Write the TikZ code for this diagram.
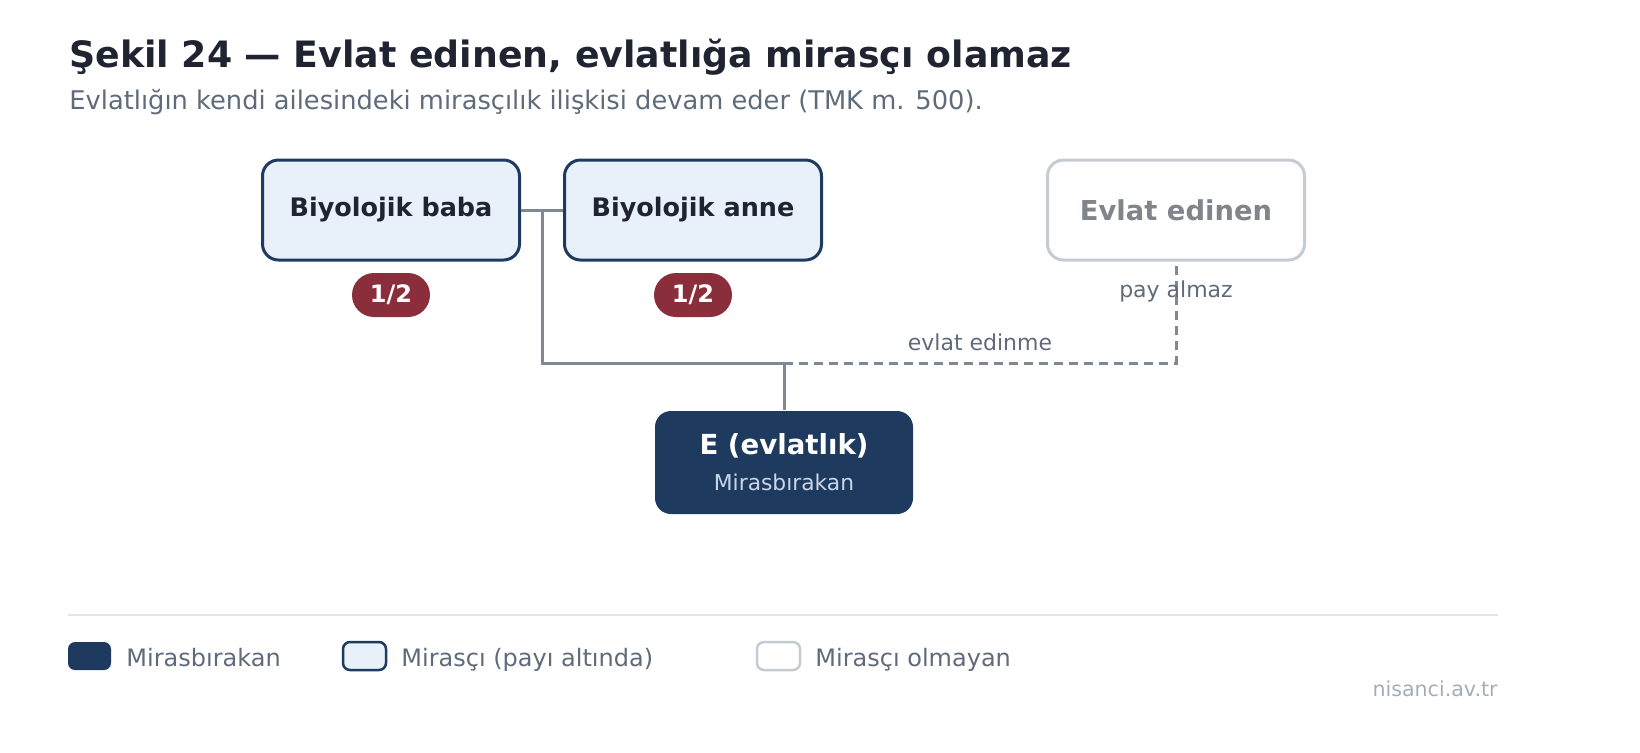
\documentclass[tikz,border=0pt]{standalone}
\usepackage{fontspec}
\setmainfont{DejaVu Sans}
\usetikzlibrary{positioning}

\definecolor{lacivert}{HTML}{1F3A5F}
\definecolor{acikmavi}{HTML}{E8F0F9}
\definecolor{cizgi}{HTML}{7F8893}
\definecolor{bordo}{HTML}{8B2E3C}
\definecolor{silik}{HTML}{C5CBD3}
\definecolor{siliky}{HTML}{80858C}
\definecolor{aciky}{HTML}{5F6B7A}
\definecolor{koyu}{HTML}{1F2430}
\definecolor{ayrac}{HTML}{E1E4E8}
\definecolor{imza}{HTML}{A3ADB8}
\definecolor{eacik}{HTML}{C9D6E8}

\begin{document}
\begin{tikzpicture}[x=0.5pt,y=-0.5pt,
  kisi/.style={draw=lacivert, line width=1.5pt, fill=acikmavi, rounded corners=8pt,
    minimum width=128.5pt, minimum height=50pt, inner sep=0pt, text=koyu,
    font=\bfseries\fontsize{12.75}{15}\selectfont},
  disarda/.style={kisi, draw=silik, fill=white, text=siliky,
    font=\bfseries\fontsize{13.7}{16}\selectfont},
  olen/.style={kisi, draw=none, fill=lacivert, text=white, minimum width=129pt,
    minimum height=51.5pt, align=center, font=\bfseries\fontsize{13.8}{17}\selectfont},
  pay/.style={fill=bordo, text=white, rounded corners=11pt, minimum width=39pt,
    minimum height=22pt, inner sep=0pt, font=\bfseries\fontsize{12}{14}\selectfont},
  bag/.style={draw=cizgi, line width=1.5pt},
  etiket/.style={text=aciky, font=\fontsize{11}{13}\selectfont},
  lejant/.style={rounded corners=3.5pt, line width=1.25pt, minimum width=21.5pt,
    minimum height=14pt, inner sep=0pt},
  lyazi/.style={anchor=base west, text=aciky, inner sep=0pt, font=\fontsize{12}{14}\selectfont}]

%Sayfanin sinirlari
\useasboundingbox (0,0) rectangle (1640,752);

%Baslik ve alt baslik
\node[anchor=base west, inner sep=0pt, text=koyu, font=\bfseries\fontsize{18.15}{21}\selectfont]
  (baslik) at (69,67) {Şekil 24 — Evlat edinen, evlatlığa mirasçı olamaz};
\node[anchor=base west, inner sep=0pt, text=aciky, font=\fontsize{12.86}{15}\selectfont]
  (altbaslik) at (69,109) {Evlatlığın kendi ailesindeki mirasçılık ilişkisi devam eder (TMK m. 500).};

%Kisiler
\node[kisi] (baba) at (391,210) {Biyolojik baba};
\node[kisi] (anne) at (693,210) {Biyolojik anne};
\node[disarda] (edinen) at (1176,210) {Evlat edinen};
\node[olen] (evlatlik) at (784,462.5) {E (evlatlık)\\[1pt]{\mdseries\fontsize{10.9}{13}\selectfont\color{eacik}Mirasbırakan}};

%Paylar
\node[pay] (babapay) at (391,295) {1/2};
\node[pay] (annepay) at (693,295) {1/2};

%Baglar
\coordinate (evlilik) at (542,210);
\coordinate (kol) at (542,363);
\coordinate (catal) at (784,363);
\draw[bag] (baba.east) -- (anne.west);
\draw[bag] (evlilik) -- (kol) -- (catal) -- (evlatlik.north);
\draw[bag, dash pattern=on 4.5pt off 3pt] (catal) -- (catal -| edinen) -- (edinen.south);
\node[etiket] (edinme) at (980,342) {evlat edinme};
\node[etiket] (almaz) at (1176,291) {pay almaz};

%Ayrac ve lejant
\coordinate (ayracsol) at (68,615);
\coordinate (ayracsag) at (1498,615);
\draw[ayrac, line width=1pt] (ayracsol) -- (ayracsag);
\node[lejant, fill=lacivert] (lj1) at (89.5,656) {};
\node[lyazi] (ly1) at (126,666) {Mirasbırakan};
\node[lejant, draw=lacivert, fill=acikmavi] (lj2) at (364.5,656) {};
\node[lyazi] (ly2) at (401,666) {Mirasçı (payı altında)};
\node[lejant, draw=silik, fill=white] (lj3) at (778.5,656) {};
\node[lyazi] (ly3) at (815,666) {Mirasçı olmayan};

%Imza
\node[anchor=base east, inner sep=0pt, text=imza, font=\fontsize{10.3}{12}\selectfont]
  (site) at (1498,696) {nisanci.av.tr};

\end{tikzpicture}
\end{document}
